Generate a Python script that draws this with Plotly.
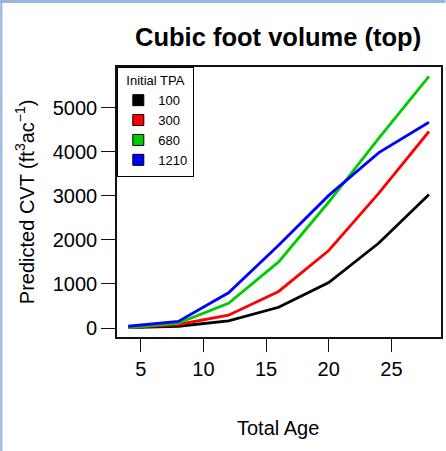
import plotly.graph_objects as go

ages = [4, 8, 12, 16, 20, 24, 28]
tpa_labels = ["100", "300", "680", "1210"]
cvt_100 = [10, 40, 160, 470, 1030, 1930, 3030]
cvt_300 = [10, 80, 290, 830, 1760, 3060, 4460]
cvt_680 = [10, 110, 560, 1500, 2860, 4310, 5710]
cvt_1210 = [40, 150, 800, 1880, 3010, 3980, 4670]
series = [cvt_100, cvt_300, cvt_680, cvt_1210]
colors = ["#000000", "#FF0000", "#00CD00", "#0000FF"]
x_ticks = [5, 10, 15, 20, 25]
y_ticks = [0, 1000, 2000, 3000, 4000, 5000]

FONT = "Liberation Sans, Arial, sans-serif"
W, H = 446, 451
ML, MR, MT, MB = 117, 4.5, 67, 114
PW = W - ML - MR
PH = H - MT - MB

fig = go.Figure()
for lab, ys, c in zip(tpa_labels, series, colors):
    fig.add_trace(go.Scatter(x=ages, y=ys, mode="lines", line=dict(color=c, width=2.8),
                             showlegend=False, hoverinfo="skip"))
for lab, c in zip(tpa_labels, colors):
    fig.add_trace(go.Scatter(x=[None], y=[None], mode="markers", name=lab,
                             marker=dict(symbol="square", size=11, color=c,
                                         line=dict(color="black", width=1))))

def px_x(p):
    return (p - ML) / PW

def px_y(p):
    return (H - MB - p) / PH

border = "#9AB4E4"
shapes = [
    dict(type="rect", xref="paper", yref="paper", x0=px_x(0), x1=px_x(2.2), y0=px_y(H), y1=px_y(0),
         fillcolor=border, line=dict(width=0), layer="below"),
    dict(type="rect", xref="paper", yref="paper", x0=px_x(0), x1=px_x(W), y0=px_y(3), y1=px_y(0),
         fillcolor=border, line=dict(width=0), layer="below"),
]

annotations = [
    dict(text="<b>Cubic foot volume (top)</b>", xref="paper", yref="paper",
         x=px_x(278.5), y=px_y(37), xanchor="center", yanchor="middle", showarrow=False,
         font=dict(family=FONT, size=25.5, color="black")),
    dict(text="Total Age", xref="paper", yref="paper",
         x=px_x(278.5), y=px_y(428), xanchor="center", yanchor="middle", showarrow=False,
         font=dict(family=FONT, size=20, color="black")),
    dict(text="Predicted CVT (ft<sup>3</sup>ac<sup>\u22121</sup>)", xref="paper", yref="paper",
         x=px_x(24), y=px_y(202), xanchor="center", yanchor="middle", textangle=-90,
         showarrow=False, font=dict(family=FONT, size=20, color="black")),
]

fig.update_layout(
    width=W, height=H,
    margin=dict(l=ML, r=MR, t=MT, b=MB, autoexpand=False),
    paper_bgcolor="white", plot_bgcolor="white",
    shapes=shapes, annotations=annotations,
    legend=dict(x=0, y=1, xanchor="left", yanchor="top",
                bordercolor="black", borderwidth=1.3, bgcolor="white",
                title=dict(text="Initial TPA", side="top center",
                           font=dict(family=FONT, size=13, color="black")),
                font=dict(family=FONT, size=13, color="black"),
                tracegroupgap=0, itemsizing="trace"),
    xaxis=dict(range=[3.1, 28.96], tickvals=x_ticks, ticktext=[str(v) for v in x_ticks],
               showgrid=False, zeroline=False, showline=True, mirror=True,
               linecolor="#111", linewidth=1.6, ticks="outside", ticklen=13,
               tickwidth=1.4, tickcolor="#111",
               tickfont=dict(family=FONT, size=20, color="black")),
    yaxis=dict(range=[-204, 5924], tickvals=y_ticks, ticktext=[str(v) for v in y_ticks],
               showgrid=False, zeroline=False, showline=True, mirror=True,
               linecolor="#111", linewidth=1.6, ticks="outside", ticklen=14,
               tickwidth=1.4, tickcolor="#111",
               tickfont=dict(family=FONT, size=20, color="black")),
)

fig.write_html("out.html")
